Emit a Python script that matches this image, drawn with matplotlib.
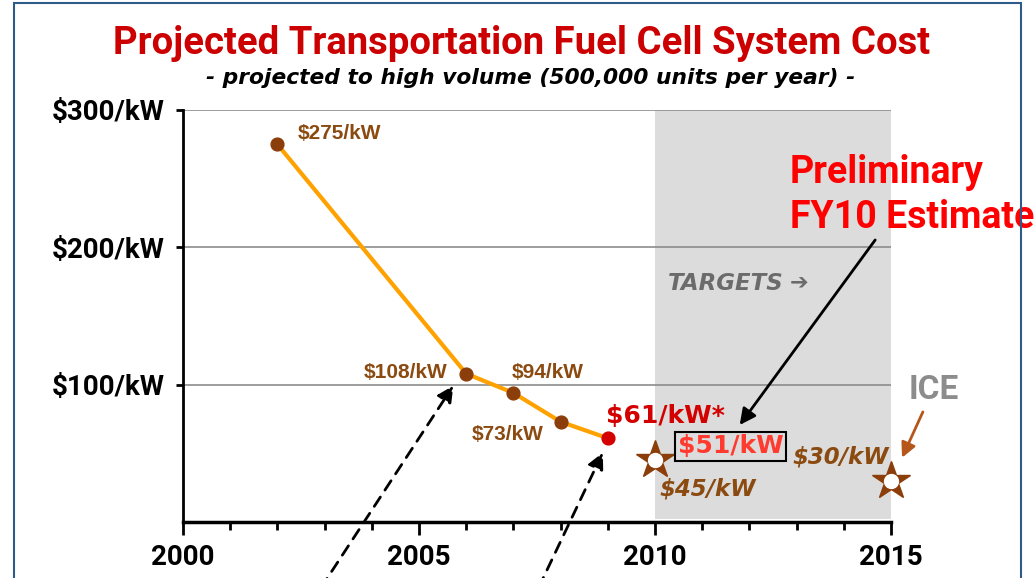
import matplotlib.pyplot as plt
from matplotlib.patches import Rectangle

# measured fuel cell system cost
years = [2002, 2006, 2007, 2008, 2009]
cost = [275, 108, 94, 73, 61]
labels = ["\\$275/kW", "\\$108/kW", "\\$94/kW", "\\$73/kW", "\\$61/kW*"]

# targets
target_years = [2010, 2015]
target_cost = [45, 30]
target_labels = ["\\$45/kW", "\\$30/kW"]

fy10_year = 2011.6
fy10_label = "\\$51/kW"

yticks = [100, 200, 300]
ytick_labels = ["\\$100/kW", "\\$200/kW", "\\$300/kW"]
xticks = [2000, 2005, 2010, 2015]

brown = '#8b4a10'
orange = '#ffa200'

fig = plt.figure(figsize=(10.36, 5.78), dpi=100)
ax = fig.add_axes([183/1036, 1-522/578, (891-183)/1036, (522-110)/578])
ax.set_xlim(2000, 2015)
ax.set_ylim(0, 300)

ax.axvspan(2010, 2015, ymin=0.008, ymax=1, color='#dcdcdc', zorder=0, lw=0)
for v in yticks:
    ax.axhline(v, color='#8c8c8c', lw=1.2, zorder=1)

ax.plot(years, cost, color=orange, lw=3, zorder=2)
ax.scatter(years[:-1], cost[:-1], s=85, color='#8b3e0a', zorder=3)
ax.scatter(years[-1:], cost[-1:], s=85, color='#d40000', zorder=3)

ax.plot(target_years, target_cost, ls='none', marker='*', ms=29, color='#8b3e0a', zorder=3, clip_on=False)
ax.plot(target_years, target_cost, ls='none', marker='o', ms=10, color='white', zorder=4, clip_on=False)

for s in ['top', 'right']:
    ax.spines[s].set_visible(False)
ax.spines['left'].set_linewidth(2)
ax.spines['bottom'].set_linewidth(2.5)
ax.spines['bottom'].set_zorder(5)

ax.set_yticks(yticks)
ax.set_yticklabels(ytick_labels, fontsize=20, fontweight='bold', fontfamily='Roboto')
ax.set_xticks(xticks)
ax.set_xticklabels([str(x) for x in xticks], fontsize=20, fontweight='bold', fontfamily='Roboto')
ax.set_xticks(range(2000, 2016), minor=True)
ax.tick_params(axis='x', which='major', length=9.5, width=2, direction='out', pad=6)
ax.tick_params(axis='x', which='minor', length=6, width=2, direction='out')
ax.tick_params(axis='y', length=5, width=2, direction='out', pad=8)

lab = dict(fontfamily='Liberation Sans', fontweight='bold', color=brown, fontsize=15, va='center')
ax.text(2002.42, 283, labels[0], ha='left', **lab)
ax.text(2005.61, 109, labels[1], ha='right', **lab)
ax.text(2006.97, 108.5, labels[2], ha='left', **lab)
ax.text(2006.12, 63.5, labels[3], ha='left', **lab)
ax.text(2008.96, 77.5, labels[4], ha='left', va='center', fontfamily='DejaVu Sans',
        fontweight='bold', color='#d40000', fontsize=18)
ax.text(fy10_year, 55, fy10_label, ha='center', va='center', fontfamily='DejaVu Sans',
        fontweight='bold', color='#ff3b30', fontsize=18,
        bbox=dict(boxstyle='square,pad=0.1', fc='none', ec='black', lw=1.5))

tl = dict(fontfamily='DejaVu Sans', fontweight='bold', style='italic', color=brown, fontsize=16.5, va='center')
ax.text(2010.1, 24, target_labels[0], ha='left', **tl)
ax.text(2012.92, 47.3, target_labels[1], ha='left', **tl)

ax.text(2015.91, 96, "ICE", ha='center', va='center', fontsize=24, fontweight='bold',
        fontfamily='Roboto', color='#8c8c8c', clip_on=False)
ax.text(2010.28, 174, "TARGETS", ha='left', va='center', fontfamily='DejaVu Sans',
        fontweight='bold', style='italic', color='#6b6b6b', fontsize=16.5)
ax.text(2012.85, 174, "\u2794", ha='left', va='center', fontfamily='DejaVu Sans',
        color='#6b6b6b', fontsize=16)
ax.text(2012.86, 247, "Preliminary", ha='left', va='baseline', fontsize=27,
        fontweight='bold', fontfamily='Roboto', color='#ff0000', clip_on=False)
ax.text(2012.86, 214, "FY10 Estimate", ha='left', va='baseline', fontsize=27,
        fontweight='bold', fontfamily='Roboto', color='#ff0000', clip_on=False)

ax.annotate("", xy=(2011.76, 69), xytext=(2014.70, 207),
            arrowprops=dict(arrowstyle='-|>', color='black', lw=2, mutation_scale=24),
            annotation_clip=False)
ax.annotate("", xy=(2015.21, 45), xytext=(2015.70, 82),
            arrowprops=dict(arrowstyle='-|>', color='#b5561a', lw=2, mutation_scale=22),
            annotation_clip=False)
ax.annotate("", xy=(2005.76, 101), xytext=(319.5, -12), textcoords='figure pixels',
            arrowprops=dict(arrowstyle='-|>', color='black', lw=2, ls=(0, (4, 3)), mutation_scale=24),
            annotation_clip=False)
ax.annotate("", xy=(2008.92, 52.4), xytext=(537.5, -12), textcoords='figure pixels',
            arrowprops=dict(arrowstyle='-|>', color='black', lw=2, ls=(0, (4, 3)), mutation_scale=24),
            annotation_clip=False)

fig.text(522/1036, 1-43/578, "Projected Transportation Fuel Cell System Cost", ha='center',
         va='center', fontsize=27.5, fontweight='bold', fontfamily='Roboto', color='#cc0000')
fig.text(531/1036, 1-78/578, "- projected to high volume (500,000 units per year) -", ha='center',
         va='center', fontsize=15.7, fontweight='bold', style='italic', color='black')

fig.patches.append(Rectangle((14/1036, -0.1), (1021-14)/1036, 1.1-3/578, transform=fig.transFigure,
                             fill=False, ec='#2e5c8a', lw=1.5))

fig.savefig("out.png", dpi=100)
